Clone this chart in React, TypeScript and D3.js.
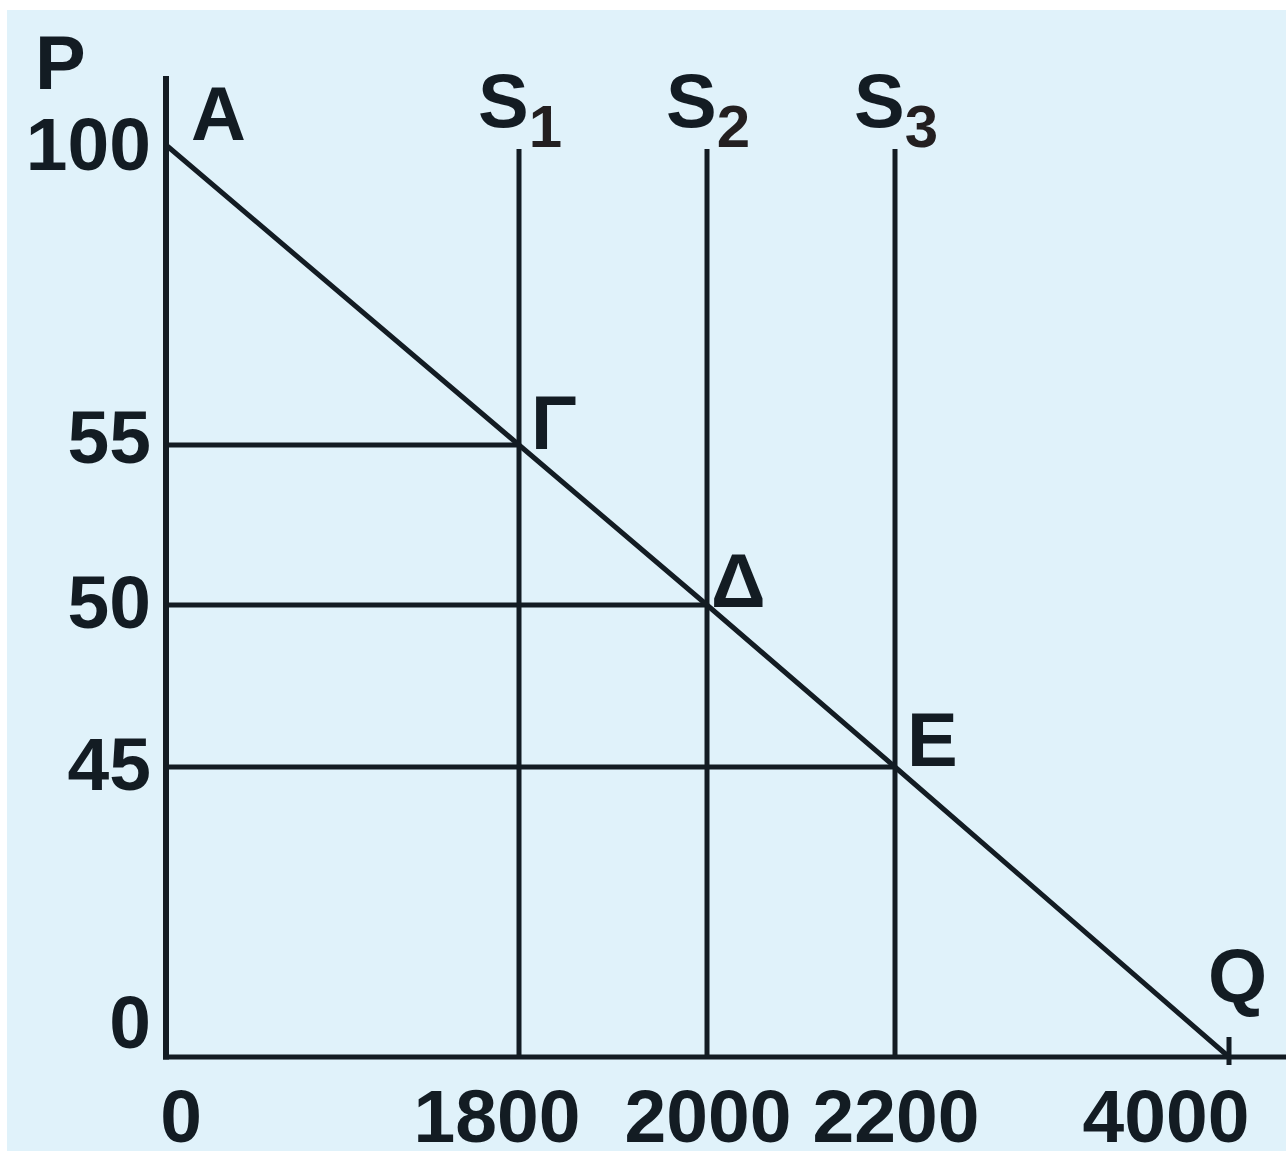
import React from "react";
import * as d3 from "d3";

// ---- data ----
const quantityTicks = [0, 1800, 2000, 2200, 4000];
const priceTicks = [0, 45, 50, 55, 100];
const supplyLabels = ["1", "2", "3"];
const supplyQuantities = [1800, 2000, 2200];
const equilibriumPrices = [55, 50, 45];
const demandPoints: [number, number][] = [
  [0, 100],
  [1800, 55],
  [2000, 50],
  [2200, 45],
  [4000, 0],
];
const pointNames = ["Γ", "Δ", "E"];

const W = 1286;
const H = 1151;
const INK = "#131c23";
const BG = "#e0f2fa";
const FONT = "'Liberation Sans', Arial, Helvetica, sans-serif";

export default function App() {
  const x = d3
    .scaleLinear()
    .domain(quantityTicks)
    .range([166, 519, 707, 895, 1229]);
  const y = d3
    .scaleLinear()
    .domain(priceTicks)
    .range([1057, 767, 605, 445, 145]);

  const line = d3
    .line<[number, number]>()
    .x((d) => x(d[0]))
    .y((d) => y(d[1]));

  const xLabelDx: Record<number, number> = { 0: 15, 1800: -22, 2000: 1, 2200: 1, 4000: -63 };
  const yLabelDy: Record<number, number> = { 0: -9, 45: 23, 50: 23, 55: 18, 100: 25 };
  const pointOffsets = [
    [12, 4],
    [4, 2],
    [12, -1],
  ];
  const supplyTop = 149;
  const big = 76;

  return (
    <svg
      width={W}
      height={H}
      style={{ position: "absolute", left: 0, top: 0, display: "block" }}
      fontFamily={FONT}
      fontWeight="bold"
    >
      <rect x={0} y={0} width={W} height={H} fill="#ffffff" />
      <rect x={7} y={10} width={W - 7} height={H - 10} fill={BG} />

      {/* horizontal guide lines */}
      {equilibriumPrices.map((p, i) => (
        <line
          key={"h" + p}
          x1={x(0)}
          x2={x(supplyQuantities[i])}
          y1={y(p)}
          y2={y(p)}
          stroke={INK}
          strokeWidth={5}
        />
      ))}

      {/* supply lines */}
      {supplyQuantities.map((q) => (
        <line
          key={"s" + q}
          x1={x(q)}
          x2={x(q)}
          y1={supplyTop}
          y2={y(0)}
          stroke={INK}
          strokeWidth={5}
        />
      ))}

      {/* demand */}
      <path d={line(demandPoints) || ""} fill="none" stroke={INK} strokeWidth={5} />

      {/* axes */}
      <line x1={x(0)} x2={x(0)} y1={76} y2={y(0) + 2.5} stroke={INK} strokeWidth={6} />
      <line x1={x(0) - 3} x2={W} y1={y(0)} y2={y(0)} stroke={INK} strokeWidth={5} />
      <line x1={x(4000)} x2={x(4000)} y1={y(0) - 20} y2={y(0) + 8} stroke={INK} strokeWidth={5} />

      {/* axis titles */}
      <text x={35} y={89} fontSize={big} fill={INK}>P</text>
      <text x={x(4000) - 21} y={y(0) - 55} fontSize={big} fill={INK}>Q</text>
      <text x={x(0) + 25} y={y(100) - 5} fontSize={big} fill={INK}>A</text>

      {/* y tick labels */}
      {priceTicks.map((p) => (
        <text
          key={"yl" + p}
          x={151}
          y={y(p) + yLabelDy[p]}
          textAnchor="end"
          fontSize={75}
          fill={INK}
        >
          {p}
        </text>
      ))}

      {/* x tick labels */}
      {quantityTicks.map((q) => (
        <text
          key={"xl" + q}
          x={x(q) + xLabelDx[q]}
          y={1142}
          textAnchor="middle"
          fontSize={75}
          fill={INK}
        >
          {q}
        </text>
      ))}

      {/* supply labels */}
      {supplyQuantities.map((q, i) => (
        <text key={"sl" + q} x={x(q) - 41} y={127} fontSize={big} fill={INK}>
          S
          <tspan fontSize={60} dy={20} fill="#231f20">
            {supplyLabels[i]}
          </tspan>
        </text>
      ))}

      {/* point labels */}
      {supplyQuantities.map((q, i) => (
        <text
          key={"pl" + q}
          x={x(q) + pointOffsets[i][0]}
          y={y(equilibriumPrices[i]) + pointOffsets[i][1]}
          fontSize={big}
          fill={INK}
        >
          {pointNames[i]}
        </text>
      ))}
    </svg>
  );
}
